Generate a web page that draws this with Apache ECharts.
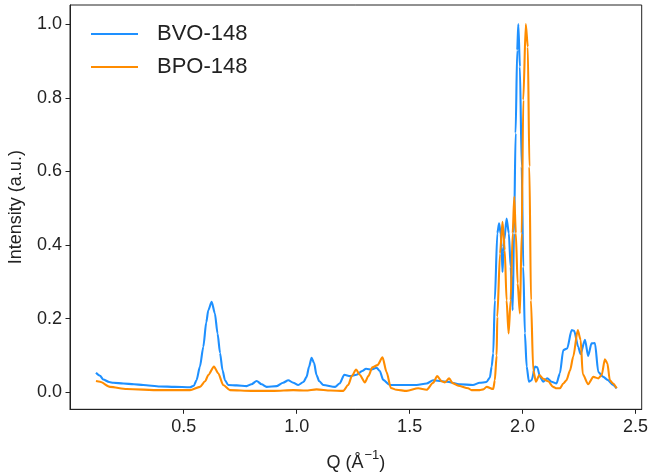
<!DOCTYPE html>
<html>
<head>
<meta charset="utf-8">
<script src="https://cdn.jsdelivr.net/npm/echarts@6/dist/echarts.min.js"></script>
<style>
html,body{margin:0;padding:0;background:#fff;}
#chart{width:651px;height:472px;}
</style>
</head>
<body>
<div id="chart"></div>
<script>
// BVO-148 (blue)
const qBVO = [0.112,0.13,0.144,0.17,0.189,0.233,0.28,0.321,0.395,0.46,0.528,0.545,0.557,0.572,0.587,0.6,0.609,0.624,0.638,0.65,0.661,0.672,0.683,0.697,0.735,0.779,0.8,0.823,0.845,0.867,0.912,0.94,0.963,0.985,1.007,1.03,1.044,1.055,1.066,1.077,1.088,1.1,1.118,1.17,1.19,1.211,1.236,1.265,1.29,1.307,1.332,1.354,1.368,1.383,1.413,1.531,1.575,1.604,1.664,1.723,1.78,1.81,1.84,1.855,1.863,1.87,1.877,1.888,1.896,1.903,1.907,1.911,1.915,1.919,1.929,1.939,1.947,1.956,1.962,1.969,1.976,1.981,1.988,1.996,2.003,2.01,2.018,2.028,2.04,2.055,2.065,2.077,2.091,2.109,2.128,2.15,2.165,2.18,2.197,2.217,2.228,2.246,2.256,2.276,2.29,2.305,2.32,2.335,2.357,2.376,2.4,2.416];
const iBVO = [0.053,0.045,0.035,0.028,0.026,0.024,0.022,0.020,0.016,0.015,0.014,0.018,0.033,0.07,0.124,0.19,0.223,0.246,0.215,0.16,0.107,0.06,0.033,0.02,0.019,0.017,0.022,0.031,0.022,0.015,0.017,0.026,0.033,0.026,0.020,0.028,0.042,0.07,0.094,0.08,0.047,0.03,0.02,0.015,0.024,0.048,0.044,0.048,0.058,0.064,0.062,0.067,0.058,0.034,0.02,0.02,0.024,0.033,0.029,0.022,0.02,0.026,0.028,0.04,0.07,0.106,0.25,0.432,0.459,0.43,0.395,0.327,0.38,0.414,0.472,0.432,0.341,0.223,0.432,0.704,0.929,1.0,0.884,0.613,0.341,0.161,0.07,0.029,0.033,0.07,0.068,0.042,0.029,0.038,0.029,0.024,0.052,0.115,0.119,0.169,0.167,0.124,0.104,0.143,0.099,0.133,0.134,0.055,0.042,0.034,0.02,0.011];
// BPO-148 (orange)
const qBPO = [0.112,0.13,0.174,0.248,0.395,0.528,0.572,0.595,0.609,0.634,0.653,0.675,0.705,0.8,0.9,0.985,1.04,1.088,1.15,1.206,1.228,1.245,1.263,1.28,1.302,1.318,1.335,1.358,1.38,1.398,1.417,1.442,1.487,1.538,1.575,1.604,1.622,1.642,1.656,1.675,1.69,1.715,1.759,1.774,1.81,1.826,1.841,1.87,1.877,1.885,1.888,1.9,1.911,1.921,1.929,1.938,1.947,1.956,1.963,1.97,1.978,1.988,1.996,2.003,2.014,2.023,2.03,2.037,2.047,2.059,2.074,2.091,2.113,2.135,2.15,2.165,2.18,2.194,2.21,2.224,2.244,2.257,2.266,2.29,2.313,2.335,2.35,2.364,2.375,2.386,2.4,2.416];
const iBPO = [0.031,0.029,0.015,0.009,0.006,0.006,0.015,0.03,0.047,0.07,0.052,0.02,0.006,0.004,0.004,0.006,0.005,0.008,0.005,0.004,0.02,0.045,0.062,0.047,0.027,0.045,0.068,0.074,0.095,0.055,0.012,0.007,0.004,0.011,0.007,0.026,0.044,0.03,0.027,0.038,0.025,0.018,0.011,0.006,0.006,0.008,0.015,0.009,0.033,0.1,0.205,0.377,0.463,0.386,0.25,0.16,0.25,0.432,0.531,0.432,0.296,0.214,0.432,0.794,1.0,0.938,0.613,0.25,0.06,0.029,0.047,0.037,0.03,0.015,0.011,0.011,0.024,0.033,0.06,0.097,0.169,0.142,0.05,0.022,0.042,0.038,0.047,0.09,0.079,0.033,0.024,0.011];
const xTicks = [0.5,1.0,1.5,2.0,2.5];
const yTicks = [0.0,0.2,0.4,0.6,0.8,1.0];
const seriesNames = ['BVO-148','BPO-148'];

const FONT = "'Liberation Sans', Arial, sans-serif";
const chart = echarts.init(document.getElementById('chart'), null, {renderer:'canvas'});
const pairs = (xs, ys) => xs.map((x,i)=>[x, ys[i]]);
chart.setOption({
  animation:false,
  backgroundColor:'#fff',
  grid:{left:70,right:9.3,top:5,bottom:62.7,show:true,borderColor:'#222',borderWidth:1,backgroundColor:'transparent',
        containLabel:false,outerBoundsMode:'none'},
  legend:{
    left:91, top:21, padding:0, orient:'vertical', icon:'rect', itemWidth:47, itemHeight:2, itemGap:7,
    textStyle:{fontFamily:FONT,fontSize:22,color:'#222',lineHeight:26,padding:[0,0,0,14]},
    data:seriesNames
  },
  xAxis:{
    type:'value', min:-0.003, max:2.527,
    name:'{a|Q (Å}{s|−1}{a|)}', nameLocation:'middle', nameGap:40,
    nameTextStyle:{fontFamily:FONT,fontSize:18,color:'#222',
      rich:{a:{fontFamily:FONT,fontSize:18,color:'#222',lineHeight:22},
            s:{fontFamily:FONT,fontSize:13,color:'#222',padding:[0,0,14,1]}}},
    axisLine:{show:true,onZero:false,lineStyle:{color:'#222',width:1}},
    axisTick:{show:true,length:4.5,inside:false,customValues:xTicks,lineStyle:{color:'#222'}},
    axisLabel:{customValues:xTicks,margin:9,fontFamily:FONT,fontSize:18,color:'#222',formatter:v=>v.toFixed(1)},
    splitLine:{show:false}
  },
  yAxis:{
    type:'value', min:-0.046, max:1.052,
    name:'Intensity (a.u.)', nameLocation:'middle', nameGap:45,
    nameTextStyle:{fontFamily:FONT,fontSize:18,color:'#222'},
    axisLine:{show:true,onZero:false,lineStyle:{color:'#222',width:1}},
    axisTick:{show:true,length:4.5,inside:false,customValues:yTicks,lineStyle:{color:'#222'}},
    axisLabel:{customValues:yTicks,margin:8,fontFamily:FONT,fontSize:18,color:'#222',formatter:v=>v.toFixed(1)},
    splitLine:{show:false}
  },
  series:[
    {name:seriesNames[0],type:'line',data:pairs(qBVO,iBVO),showSymbol:false,smooth:0.25,smoothMonotone:'x',
     lineStyle:{color:'#1E90FF',width:2.1},itemStyle:{color:'#1E90FF'},z:2},
    {name:seriesNames[1],type:'line',data:pairs(qBPO,iBPO),showSymbol:false,smooth:0.25,smoothMonotone:'x',
     lineStyle:{color:'#FF8C00',width:2.1},itemStyle:{color:'#FF8C00'},z:3}
  ]
});
</script>
</body>
</html>
